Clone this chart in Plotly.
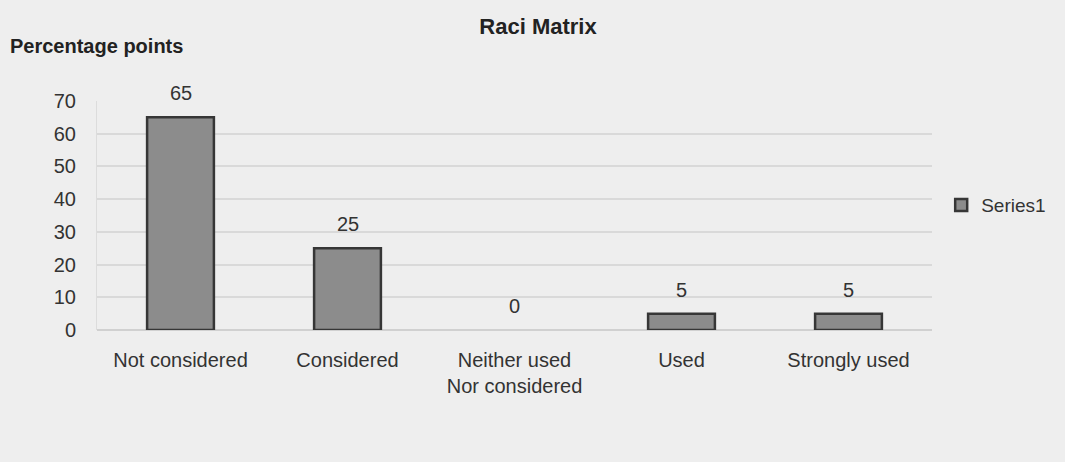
import plotly.graph_objects as go

categories = ["Not considered", "Considered", "Neither used<br>Nor considered", "Used", "Strongly used"]
values = [65, 25, 0, 5, 5]
y_ticks = [0, 10, 20, 30, 40, 50, 60, 70]

W, H = 1065, 462
left, right, top, bottom = 97, 932, 101, 330
FONT = "Liberation Sans, Arial"

fig = go.Figure()
fig.add_trace(go.Bar(
    x=categories,
    y=values,
    name="Series1",
    width=0.4,
    marker=dict(color="#8c8c8c",
                line=dict(color="#363636", width=[2.5 if v > 0 else 0 for v in values])),
))

# value labels above each bar
value_labels = [
    dict(x=c, y=v, xref="x", yref="y", text=str(v), showarrow=False,
         yshift=24, yanchor="middle", font=dict(size=20, color="#333333", family=FONT))
    for c, v in zip(categories, values)
]

fig.update_layout(
    width=W, height=H,
    margin=dict(l=left, r=W - right, t=top, b=H - bottom, pad=0, autoexpand=False),
    paper_bgcolor="#eeeeee",
    plot_bgcolor="#eeeeee",
    font=dict(family=FONT, color="#333333", size=20),
    title=dict(text="<b>Raci Matrix</b>", x=538 / W, xanchor="center", y=1 - 26 / H, yanchor="middle",
               font=dict(size=22, color="#222222")),
    bargap=0.6,
    showlegend=True,
    legend=dict(x=1.011, y=0.545, xanchor="left", yanchor="middle", bgcolor="rgba(0,0,0,0)",
                font=dict(size=19, color="#333333"), itemwidth=30),
    xaxis=dict(showgrid=False, showline=False, ticks="", tickfont=dict(size=20, color="#333333"),
               ticklabelstandoff=16),
    yaxis=dict(range=[0, 70], tickvals=y_ticks, showgrid=True, gridcolor="#d9d9d9", gridwidth=1.5,
               zeroline=True, zerolinecolor="#d0d0d0", zerolinewidth=1.5,
               showline=True, linecolor="#dcdcdc", linewidth=1,
               tickfont=dict(size=20, color="#333333"), ticklabelstandoff=16),
    annotations=value_labels + [
        dict(text="<b>Percentage points</b>", x=(8 - left) / (right - left), y=(bottom - 46) / (bottom - top),
             xref="paper", yref="paper", xanchor="left", yanchor="middle", showarrow=False,
             font=dict(size=20, color="#222222"))
    ],
)

fig.write_html("out.html")
